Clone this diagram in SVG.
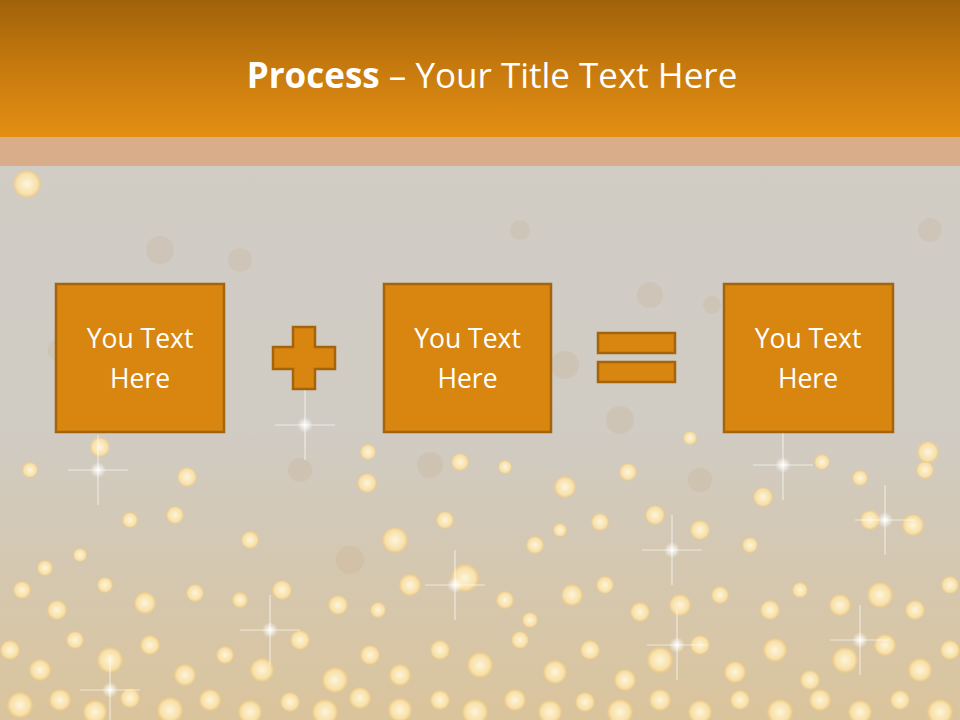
<svg xmlns="http://www.w3.org/2000/svg" xmlns:xlink="http://www.w3.org/1999/xlink" width="960" height="720" viewBox="0 0 960 720">
<defs>
<style>
.box{fill:#D8860F;stroke:#A5640B;stroke-width:2.5}
.op{fill:#D8860F;stroke:#A5640B;stroke-width:2.5}
.lbl{font-family:"Open Sans","Liberation Sans",sans-serif;font-size:26.5px;fill:#FFFFFF;text-anchor:middle}
.title{font-family:"Open Sans","Liberation Sans",sans-serif;font-size:35px;fill:#FFFFFF;text-anchor:middle}
.bk{fill:url(#bokeh)}
.fb{fill:#C0905A;opacity:0.12}
</style>
<linearGradient id="hdr" x1="0" y1="0" x2="0" y2="1">
<stop offset="0" stop-color="#A0620A"/>
<stop offset="0.5" stop-color="#C77A0E"/>
<stop offset="1" stop-color="#E38F13"/>
</linearGradient>
<linearGradient id="bg" x1="0" y1="0" x2="0" y2="1">
<stop offset="0" stop-color="#D1CDC6"/>
<stop offset="0.6" stop-color="#D0CBC3"/>
<stop offset="1" stop-color="#DAC49C"/>
</linearGradient>
<radialGradient id="bokeh">
<stop offset="0" stop-color="#FFF7DE" stop-opacity="0.95"/>
<stop offset="0.75" stop-color="#FBE3A8" stop-opacity="0.9"/>
<stop offset="1" stop-color="#F0C77E" stop-opacity="0.6"/>
</radialGradient>
<radialGradient id="glow">
<stop offset="0" stop-color="#FFFFFF" stop-opacity="1"/>
<stop offset="1" stop-color="#FFFFFF" stop-opacity="0"/>
</radialGradient>
<symbol id="spark" overflow="visible">
<line x1="-30" y1="0" x2="30" y2="0" stroke="#FFFFFF" stroke-opacity="0.6" stroke-width="1.2"/>
<line x1="0" y1="-35" x2="0" y2="35" stroke="#FFFFFF" stroke-opacity="0.6" stroke-width="1.2"/>
<circle r="8" fill="url(#glow)"/>
</symbol>
</defs>

<g id="background">
<rect x="0" y="0" width="960" height="720" fill="url(#bg)"/>
<g>
<circle class="fb" cx="650" cy="295" r="13"/><circle class="fb" cx="565" cy="365" r="14"/><circle class="fb" cx="712" cy="305" r="9"/>
<circle class="fb" cx="240" cy="260" r="12"/><circle class="fb" cx="160" cy="250" r="14"/><circle class="fb" cx="860" cy="300" r="12"/>
<circle class="fb" cx="620" cy="420" r="14"/><circle class="fb" cx="430" cy="465" r="13"/><circle class="fb" cx="300" cy="470" r="12"/>
<circle class="fb" cx="350" cy="560" r="14"/><circle class="fb" cx="700" cy="480" r="12"/><circle class="fb" cx="820" cy="420" r="11"/>
<circle class="fb" cx="60" cy="350" r="12"/><circle class="fb" cx="930" cy="230" r="12"/><circle class="fb" cx="520" cy="230" r="10"/>
</g>
<g>
<circle class="bk" cx="27" cy="184" r="14"/>
<circle class="bk" cx="100" cy="447" r="10"/><circle class="bk" cx="187" cy="477" r="10"/><circle class="bk" cx="30" cy="470" r="8"/>
<circle class="bk" cx="368" cy="452" r="8"/><circle class="bk" cx="460" cy="462" r="9"/><circle class="bk" cx="565" cy="487" r="11"/>
<circle class="bk" cx="505" cy="467" r="7"/><circle class="bk" cx="628" cy="472" r="9"/><circle class="bk" cx="690" cy="438" r="7"/>
<circle class="bk" cx="763" cy="497" r="10"/><circle class="bk" cx="860" cy="478" r="8"/><circle class="bk" cx="925" cy="470" r="9"/>
<circle class="bk" cx="928" cy="452" r="11"/><circle class="bk" cx="822" cy="462" r="8"/><circle class="bk" cx="367" cy="483" r="10"/>
<circle class="bk" cx="130" cy="520" r="8"/><circle class="bk" cx="175" cy="515" r="9"/><circle class="bk" cx="395" cy="540" r="13"/>
<circle class="bk" cx="445" cy="520" r="9"/><circle class="bk" cx="535" cy="545" r="9"/><circle class="bk" cx="560" cy="530" r="7"/>
<circle class="bk" cx="600" cy="522" r="9"/><circle class="bk" cx="655" cy="515" r="10"/><circle class="bk" cx="700" cy="530" r="10"/>
<circle class="bk" cx="750" cy="545" r="8"/><circle class="bk" cx="870" cy="520" r="10"/><circle class="bk" cx="913" cy="525" r="11"/>
<circle class="bk" cx="45" cy="568" r="8"/><circle class="bk" cx="80" cy="555" r="7"/><circle class="bk" cx="250" cy="540" r="9"/>
<circle class="bk" cx="22" cy="590" r="9"/><circle class="bk" cx="57" cy="610" r="10"/><circle class="bk" cx="105" cy="585" r="8"/>
<circle class="bk" cx="145" cy="603" r="11"/><circle class="bk" cx="195" cy="593" r="9"/><circle class="bk" cx="240" cy="600" r="8"/>
<circle class="bk" cx="282" cy="590" r="10"/><circle class="bk" cx="338" cy="605" r="10"/><circle class="bk" cx="378" cy="610" r="8"/>
<circle class="bk" cx="410" cy="585" r="11"/><circle class="bk" cx="465" cy="578" r="14"/><circle class="bk" cx="505" cy="600" r="9"/>
<circle class="bk" cx="530" cy="620" r="8"/><circle class="bk" cx="572" cy="595" r="11"/><circle class="bk" cx="605" cy="585" r="9"/>
<circle class="bk" cx="640" cy="612" r="10"/><circle class="bk" cx="680" cy="605" r="11"/><circle class="bk" cx="720" cy="595" r="9"/>
<circle class="bk" cx="770" cy="610" r="10"/><circle class="bk" cx="800" cy="590" r="8"/><circle class="bk" cx="840" cy="605" r="11"/>
<circle class="bk" cx="880" cy="595" r="13"/><circle class="bk" cx="915" cy="610" r="10"/><circle class="bk" cx="950" cy="585" r="9"/>
<circle class="bk" cx="10" cy="650" r="10"/><circle class="bk" cx="40" cy="670" r="11"/><circle class="bk" cx="75" cy="640" r="9"/>
<circle class="bk" cx="110" cy="660" r="13"/><circle class="bk" cx="150" cy="645" r="10"/><circle class="bk" cx="185" cy="675" r="11"/>
<circle class="bk" cx="225" cy="655" r="9"/><circle class="bk" cx="262" cy="670" r="12"/><circle class="bk" cx="300" cy="640" r="10"/>
<circle class="bk" cx="335" cy="680" r="13"/><circle class="bk" cx="370" cy="655" r="10"/><circle class="bk" cx="400" cy="675" r="11"/>
<circle class="bk" cx="440" cy="650" r="10"/><circle class="bk" cx="480" cy="665" r="13"/><circle class="bk" cx="520" cy="640" r="9"/>
<circle class="bk" cx="555" cy="672" r="12"/><circle class="bk" cx="590" cy="650" r="10"/><circle class="bk" cx="625" cy="680" r="11"/>
<circle class="bk" cx="660" cy="660" r="13"/><circle class="bk" cx="700" cy="645" r="10"/><circle class="bk" cx="735" cy="672" r="11"/>
<circle class="bk" cx="775" cy="650" r="12"/><circle class="bk" cx="810" cy="680" r="10"/><circle class="bk" cx="845" cy="660" r="13"/>
<circle class="bk" cx="885" cy="645" r="11"/><circle class="bk" cx="920" cy="670" r="12"/><circle class="bk" cx="950" cy="650" r="10"/>
<circle class="bk" cx="20" cy="705" r="13"/><circle class="bk" cx="60" cy="700" r="11"/><circle class="bk" cx="95" cy="712" r="12"/>
<circle class="bk" cx="130" cy="698" r="10"/><circle class="bk" cx="170" cy="710" r="13"/><circle class="bk" cx="210" cy="700" r="11"/>
<circle class="bk" cx="250" cy="712" r="12"/><circle class="bk" cx="290" cy="702" r="10"/><circle class="bk" cx="325" cy="712" r="13"/>
<circle class="bk" cx="360" cy="698" r="11"/><circle class="bk" cx="400" cy="710" r="12"/><circle class="bk" cx="440" cy="700" r="10"/>
<circle class="bk" cx="475" cy="712" r="13"/><circle class="bk" cx="515" cy="700" r="11"/><circle class="bk" cx="550" cy="712" r="12"/>
<circle class="bk" cx="585" cy="702" r="10"/><circle class="bk" cx="620" cy="712" r="13"/><circle class="bk" cx="660" cy="700" r="11"/>
<circle class="bk" cx="700" cy="712" r="12"/><circle class="bk" cx="740" cy="700" r="10"/><circle class="bk" cx="780" cy="712" r="13"/>
<circle class="bk" cx="820" cy="700" r="11"/><circle class="bk" cx="860" cy="712" r="12"/><circle class="bk" cx="900" cy="700" r="10"/>
<circle class="bk" cx="940" cy="712" r="13"/>
</g>
<g>
<use xlink:href="#spark" x="305" y="425"/>
<use xlink:href="#spark" x="98" y="470"/>
<use xlink:href="#spark" x="783" y="465"/>
<use xlink:href="#spark" x="885" y="520"/>
<use xlink:href="#spark" x="672" y="550"/>
<use xlink:href="#spark" x="455" y="585"/>
<use xlink:href="#spark" x="270" y="630"/>
<use xlink:href="#spark" x="110" y="690"/>
<use xlink:href="#spark" x="860" y="640"/>
<use xlink:href="#spark" x="677" y="645"/>
</g>
</g>

<g id="header">
<rect x="0" y="0" width="960" height="137" fill="url(#hdr)"/>
<rect x="0" y="137" width="960" height="29" fill="#D9AD89"/>
<text class="title" x="492" y="88"><tspan font-weight="bold">Process</tspan> – Your Title Text Here</text>
</g>

<g id="connectors"></g>

<g id="box1">
<rect class="box" x="56" y="284" width="168" height="148"/>
<text class="lbl" x="140" y="348">You Text</text>
<text class="lbl" x="140" y="388">Here</text>
</g>

<g id="plus">
<path class="op" d="M293,327 H315 V347 H335 V369 H315 V389 H293 V369 H273 V347 H293 Z"/>
</g>

<g id="box2">
<rect class="box" x="384" y="284" width="167" height="148"/>
<text class="lbl" x="467.5" y="348">You Text</text>
<text class="lbl" x="467.5" y="388">Here</text>
</g>

<g id="equals">
<rect class="op" x="598" y="333" width="77" height="20"/>
<rect class="op" x="598" y="362" width="77" height="20"/>
</g>

<g id="box3">
<rect class="box" x="724" y="284" width="169" height="148"/>
<text class="lbl" x="808" y="348">You Text</text>
<text class="lbl" x="808" y="388">Here</text>
</g>
</svg>
